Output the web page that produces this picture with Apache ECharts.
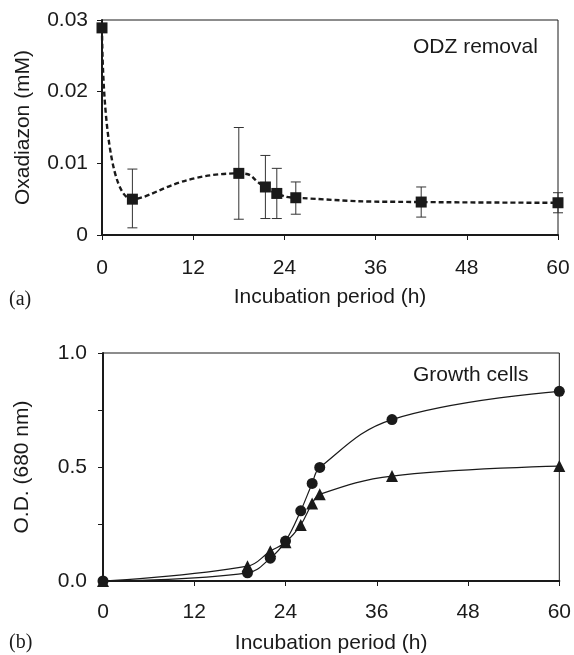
<!DOCTYPE html>
<html>
<head>
<meta charset="utf-8">
<script src="https://cdn.jsdelivr.net/npm/echarts@6/dist/echarts.min.js"></script>
<style>
  html, body { margin: 0; padding: 0; background: #fff; }
  #chart { width: 574px; height: 655px; }
</style>
</head>
<body>
<div id="chart"></div>
<script>
// (a) ODZ removal
const odzTime = [0, 4, 18, 21.5, 23, 25.5, 42, 60]
const odzValue = [0.0289, 0.0050, 0.0086, 0.0067, 0.0058, 0.0052, 0.0046, 0.0045]
const odzHigh = [null, 0.0092, 0.0150, 0.0111, 0.0093, 0.0074, 0.0067, 0.0059]
const odzLow = [null, 0.0010, 0.0022, 0.0023, 0.0023, 0.0029, 0.0025, 0.0031]

// (b) growth cells
const growthTime = [0, 19, 22, 24, 26, 27.5, 28.5, 38, 60]
const growthCircle = [0, 0.036, 0.10, 0.175, 0.308, 0.428, 0.498, 0.708, 0.832]
const growthTriangle = [0, 0.065, 0.131, 0.17, 0.246, 0.34, 0.38, 0.46, 0.504]

const xTicks = [0, 12, 24, 36, 48, 60]
const odzTicks = [0, 0.01, 0.02, 0.03]
const odTicks = [0, 0.25, 0.5, 0.75, 1.0]

const FONT = '"Liberation Sans", Arial, sans-serif'
const SERIF = '"Liberation Serif", "Times New Roman", serif'
const INK = '#1a1a1a'
const FS = 21

const chart = echarts.init(document.getElementById('chart'), null, { renderer: 'canvas' })

const xAxisBase = (gridIndex, labelMargin, nameGap) => ({
  type: 'value',
  gridIndex,
  min: xTicks[0],
  max: xTicks[xTicks.length - 1],
  interval: 12,
  name: 'Incubation period (h)',
  nameLocation: 'middle',
  nameGap,
  nameTextStyle: { color: INK, fontSize: FS, fontFamily: FONT },
  axisLine: { show: true, onZero: false, lineStyle: { color: INK, width: 2 } },
  axisTick: { show: true, inside: false, length: 5, lineStyle: { color: INK, width: 1 } },
  axisLabel: { color: INK, fontSize: FS, fontFamily: FONT, margin: labelMargin },
  splitLine: { show: false },
})

const errorBars = (params, api) => {
  const x = api.value(0)
  const lo = api.coord([x, api.value(1)])
  const hi = api.coord([x, api.value(2)])
  const w = 5
  const style = { stroke: '#333', lineWidth: 1 }
  return {
    type: 'group',
    children: [
      { type: 'line', shape: { x1: lo[0], y1: lo[1], x2: hi[0], y2: hi[1] }, style },
      { type: 'line', shape: { x1: lo[0] - w, y1: lo[1], x2: lo[0] + w, y2: lo[1] }, style },
      { type: 'line', shape: { x1: hi[0] - w, y1: hi[1], x2: hi[0] + w, y2: hi[1] }, style },
    ],
  }
}

const errData = odzTime
  .map((t, i) => [t, odzLow[i], odzHigh[i]])
  .filter((d) => d[1] != null)

chart.setOption({
  animation: false,
  grid: [
    { left: 102, right: 16, top: 20, height: 215, show: true, borderColor: INK, borderWidth: 1 },
    { left: 103, right: 11, top: 353, height: 229, show: true, borderColor: INK, borderWidth: 1 },
  ],
  xAxis: [xAxisBase(0, 23, 52), xAxisBase(1, 21, 52)],
  yAxis: [
    {
      type: 'value',
      gridIndex: 0,
      min: odzTicks[0],
      max: odzTicks[odzTicks.length - 1],
      interval: 0.01,
      name: 'Oxadiazon (mM)',
      nameLocation: 'middle',
      nameGap: 68,
      nameTextStyle: { color: INK, fontSize: FS, fontFamily: FONT },
      axisLine: { show: true, lineStyle: { color: INK, width: 2 } },
      axisTick: { show: true, inside: false, length: 5, lineStyle: { color: INK, width: 1 } },
      axisLabel: {
        color: INK, fontSize: FS, fontFamily: FONT, margin: 14,
        formatter: (v) => (v === 0 ? '0' : v.toFixed(2)),
      },
      splitLine: { show: false },
    },
    {
      type: 'value',
      gridIndex: 1,
      min: odTicks[0],
      max: odTicks[odTicks.length - 1],
      interval: 0.25,
      name: 'O.D. (680 nm)',
      nameLocation: 'middle',
      nameGap: 70,
      nameTextStyle: { color: INK, fontSize: FS, fontFamily: FONT },
      axisLine: { show: true, lineStyle: { color: INK, width: 2 } },
      axisTick: { show: true, inside: false, length: 5, lineStyle: { color: INK, width: 1 } },
      axisLabel: {
        color: INK, fontSize: FS, fontFamily: FONT, margin: 16,
        formatter: (v) => (Math.abs(v * 2 - Math.round(v * 2)) < 1e-9 ? v.toFixed(1) : ''),
      },
      splitLine: { show: false },
    },
  ],
  series: [
    {
      name: 'ODZ error',
      type: 'custom',
      xAxisIndex: 0,
      yAxisIndex: 0,
      renderItem: errorBars,
      data: errData,
      z: 2,
    },
    {
      name: 'ODZ removal',
      type: 'line',
      xAxisIndex: 0,
      yAxisIndex: 0,
      data: odzTime.map((t, i) => [t, odzValue[i]]),
      smooth: 0.6,
      symbol: 'rect',
      symbolSize: 11,
      clip: false,
      itemStyle: { color: INK },
      lineStyle: { color: INK, width: 2.4, type: [5, 3] },
      z: 3,
    },
    {
      name: 'Circle',
      type: 'line',
      xAxisIndex: 1,
      yAxisIndex: 1,
      data: growthTime.map((t, i) => [t, growthCircle[i]]),
      smooth: 0.4,
      symbol: 'circle',
      symbolSize: 11,
      clip: false,
      itemStyle: { color: INK },
      lineStyle: { color: INK, width: 1.2 },
      z: 3,
    },
    {
      name: 'Triangle',
      type: 'line',
      xAxisIndex: 1,
      yAxisIndex: 1,
      data: growthTime.map((t, i) => [t, growthTriangle[i]]),
      smooth: 0.4,
      symbol: 'triangle',
      symbolSize: 12,
      clip: false,
      itemStyle: { color: INK },
      lineStyle: { color: INK, width: 1.2 },
      z: 3,
    },
  ],
  graphic: [
    { type: 'text', left: 413, top: 37, style: { text: 'ODZ removal', fill: INK, font: `${FS}px ${FONT}` } },
    { type: 'text', left: 413, top: 365, style: { text: 'Growth cells', fill: INK, font: `${FS}px ${FONT}` } },
    { type: 'text', left: 9, top: 290, style: { text: '(a)', fill: INK, font: `20px ${SERIF}` } },
    { type: 'text', left: 9, top: 633, style: { text: '(b)', fill: INK, font: `20px ${SERIF}` } },
  ],
})

window.addEventListener('resize', () => chart.resize())
</script>
</body>
</html>
